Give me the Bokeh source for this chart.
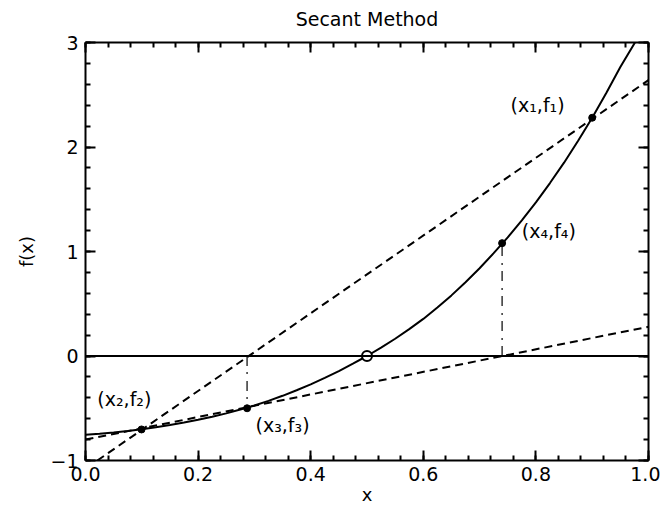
from bokeh.plotting import figure
from bokeh.models import (LinearAxis, FixedTicker, Range1d, Span,
                          CustomJSTickFormatter, ColumnDataSource)
from bokeh.core.properties import value
from bokeh.embed import file_html
from bokeh.resources import INLINE

# ---- data ----
title_text = "Secant Method"

curve_x = [0.000, 0.025, 0.050, 0.075, 0.100, 0.125, 0.150, 0.175, 0.200, 0.225,
           0.250, 0.275, 0.300, 0.325, 0.350, 0.375, 0.400, 0.425, 0.450, 0.475,
           0.500, 0.525, 0.550, 0.575, 0.600, 0.625, 0.650, 0.675, 0.700, 0.725,
           0.750, 0.775, 0.800, 0.825, 0.850, 0.875, 0.900, 0.925, 0.950, 0.976]
curve_y = [-0.754, -0.744, -0.732, -0.718, -0.701, -0.682, -0.661, -0.637, -0.611, -0.581,
           -0.549, -0.512, -0.473, -0.429, -0.381, -0.328, -0.272, -0.210, -0.145, -0.074,
           0.000, 0.080, 0.165, 0.257, 0.355, 0.464, 0.580, 0.706, 0.840, 0.984,
           1.135, 1.298, 1.470, 1.655, 1.850, 2.060, 2.280, 2.516, 2.765, 3.000]

pt_x = [0.900, 0.0995, 0.287, 0.740]
pt_y = [2.28, -0.703, -0.500, 1.080]
pt_labels = ["(x\u2081,f\u2081)", "(x\u2082,f\u2082)", "(x\u2083,f\u2083)", "(x\u2084,f\u2084)"]
label_x = [0.755, 0.021, 0.302, 0.775]
label_y = [2.40, -0.41, -0.665, 1.20]

secant1_x = [0.021, 1.0]
secant1_y = [-1.0, 2.64]
secant2_x = [0.0, 1.0]
secant2_y = [-0.80, 0.28]

root_x = [0.5]
root_y = [0.0]

drop_xs = [[0.287, 0.287], [0.740, 0.740]]
drop_ys = [[0.0, -0.500], [0.0, 1.080]]

x_ticks = [0.0, 0.2, 0.4, 0.6, 0.8, 1.0]
x_tick_labels = ["0.0", "0.2", "0.4", "0.6", "0.8", "1.0"]
x_minor = [i * 0.04 for i in range(26)]
y_ticks = [-1, 0, 1, 2, 3]
y_tick_labels = ["\u22121", "0", "1", "2", "3"]
y_minor = [-1 + i * 0.2 for i in range(21)]

FONT = "DejaVu Sans"

p = figure(frame_width=563, frame_height=418,
           x_range=Range1d(0, 1), y_range=Range1d(-1, 3),
           output_backend="svg", toolbar_location=None,
           x_axis_location=None, y_axis_location=None,
           min_border_left=85, min_border_right=12,
           min_border_top=42, min_border_bottom=0)
p.grid.visible = False
p.outline_line_color = None
p.background_fill_color = "white"
p.border_fill_color = "white"

def style_axis(ax, ticks, minor, labels=None, show=True):
    ax.ticker = FixedTicker(ticks=ticks, minor_ticks=minor)
    ax.axis_line_width = 2
    ax.axis_line_color = "black"
    ax.major_tick_in = 10
    ax.major_tick_out = 0
    ax.minor_tick_in = 5
    ax.minor_tick_out = 0
    ax.major_tick_line_width = 2
    ax.minor_tick_line_width = 2
    ax.major_tick_line_color = "black"
    ax.minor_tick_line_color = "black"
    ax.major_label_text_font = FONT
    ax.major_label_text_font_size = "19px"
    ax.major_label_text_color = "black"
    ax.axis_label_text_font = FONT
    ax.axis_label_text_font_size = "18px"
    ax.axis_label_text_font_style = "normal"
    ax.axis_label_text_color = "black"
    if show:
        ax.major_label_overrides = {t: l for t, l in zip(ticks, labels)}
    else:
        ax.formatter = CustomJSTickFormatter(code="return ''")
        ax.major_label_standoff = 0

xb = LinearAxis(axis_label="x")
style_axis(xb, x_ticks, x_minor, x_tick_labels)
xb.major_label_standoff = 6
xb.axis_label_standoff = 0
p.add_layout(xb, "below")

yl = LinearAxis(axis_label="f(x)")
style_axis(yl, y_ticks, y_minor, y_tick_labels)
yl.major_label_standoff = 7
yl.axis_label_standoff = 10
p.add_layout(yl, "left")

# top axis: inward ticks only, its axis label serves as the chart title
xt = LinearAxis(axis_label=title_text)
style_axis(xt, x_ticks, x_minor, show=False)
xt.axis_label_text_font_size = "19px"
xt.axis_label_standoff = 13
p.add_layout(xt, "above")

yr = LinearAxis()
style_axis(yr, y_ticks, y_minor, show=False)
p.add_layout(yr, "right")

# zero line
p.add_layout(Span(location=0, dimension="width", line_color="black", line_width=1.8))

# secant lines
p.line(secant1_x, secant1_y, line_color="black", line_width=2, line_dash="8 5")
p.line(secant2_x, secant2_y, line_color="black", line_width=2, line_dash="8 5")

# vertical dash-dot drops
p.multi_line(drop_xs, drop_ys, line_color="#333333", line_width=1.5, line_dash="10 6 2 7")

# function curve
p.line(curve_x, curve_y, line_color="black", line_width=2)

# points
p.scatter(pt_x, pt_y, size=7, color="black")
p.scatter(root_x, root_y, size=10, fill_color="white", line_color="black", line_width=2)

src = ColumnDataSource(dict(x=label_x, y=label_y, t=pt_labels))
p.text(x="x", y="y", text="t", source=src, text_font=value(FONT),
       text_font_size="19px", text_align="left", text_baseline="middle",
       text_color="black")

open("out.html", "w").write(file_html(p, INLINE))
